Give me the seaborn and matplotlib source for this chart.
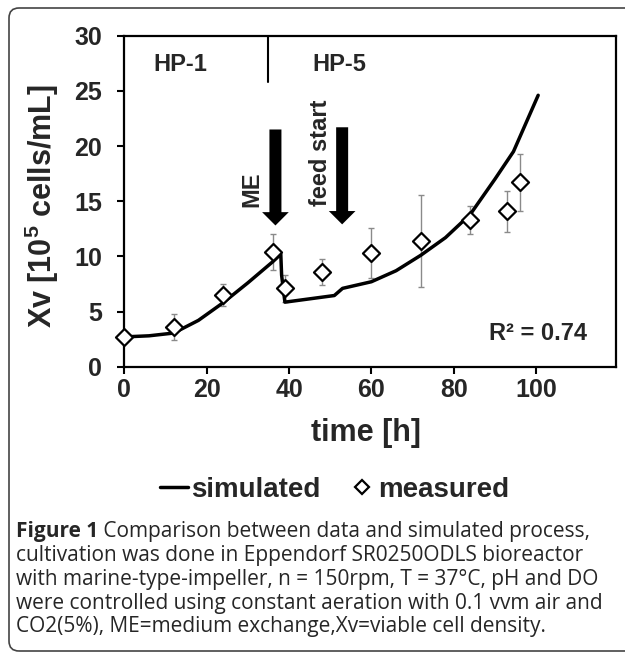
import numpy as np
import pandas as pd
import matplotlib
matplotlib.use('Agg')
import matplotlib.pyplot as plt
import seaborn as sns
from matplotlib.patches import FancyBboxPatch
from matplotlib.lines import Line2D

# simulated viable cell density (line)
sim_time = [0, 6, 12, 18, 24, 30, 36, 38, 38.2, 39, 45, 51, 53, 60, 66, 72, 78, 84, 90, 94.5, 100.5]
sim_xv = [2.7, 2.8, 3.05, 4.2, 5.8, 7.6, 9.5, 10.2, 8.3, 5.85, 6.15, 6.45, 7.1, 7.7, 8.7, 10.1, 11.7, 13.8, 17.0, 19.5, 24.6]

# measured viable cell density (diamonds) with error bars
meas_time = [0, 12, 24, 36, 39, 48, 60, 72, 84, 93, 96]
meas_xv = [2.7, 3.6, 6.5, 10.4, 7.1, 8.6, 10.3, 11.4, 13.3, 14.1, 16.7]
meas_err = [0.0, 1.2, 1.0, 1.65, 1.2, 1.2, 2.3, 4.2, 1.3, 1.85, 2.6]

x_ticks = [0, 20, 40, 60, 80, 100]
y_ticks = [0, 5, 10, 15, 20, 25, 30]

caption_bold = "Figure 1"
caption_lines = [
    " Comparison between data and simulated process,",
    "cultivation was done in Eppendorf SR0250ODLS bioreactor",
    "with marine-type-impeller, n = 150rpm, T = 37\u00b0C, pH and DO",
    "were controlled using constant aeration with 0.1 vvm air and",
    "CO2(5%), ME=medium exchange,Xv=viable cell density.",
]

sns.set_theme(style='white')
plt.rcParams['font.family'] = ['Liberation Sans', 'DejaVu Sans']
plt.rcParams['font.weight'] = 'bold'
plt.rcParams['mathtext.fontset'] = 'custom'
plt.rcParams['mathtext.rm'] = 'Liberation Sans:bold'
plt.rcParams['mathtext.bf'] = 'Liberation Sans:bold'
plt.rcParams['mathtext.default'] = 'bf'

W, H = 625, 653
fig = plt.figure(figsize=(W / 100, H / 100), dpi=100)
left, right, top, bottom = 124.3, 616, 35.7, 366.7
ax = fig.add_axes([left / W, 1 - bottom / H, (right - left) / W, (bottom - top) / H])

sim_df = pd.DataFrame({'time': sim_time, 'xv': sim_xv})
sns.lineplot(data=sim_df, x='time', y='xv', estimator=None, sort=False,
             color='black', lw=2.5, ax=ax, zorder=2)
ax.errorbar(meas_time, meas_xv, yerr=meas_err, fmt='none', ecolor='#8a8a8a',
            elinewidth=1, capsize=2.5, capthick=1, zorder=1)
sns.scatterplot(x=meas_time, y=meas_xv, marker='D', s=75, facecolor='white',
                edgecolor='black', linewidth=1.6, ax=ax, zorder=3, clip_on=False)

ax.set_xlim(0, 119.4)
ax.set_ylim(0, 30)
ax.set_xticks(x_ticks)
ax.set_yticks(y_ticks)
ax.set_xlabel('')
ax.set_ylabel('')
ax.tick_params(axis='both', which='major', labelsize=18, direction='out',
               length=5, width=1.5, color='black', left=True, bottom=True)
ax.tick_params(axis='y', pad=11)
ax.tick_params(axis='x', pad=3)
for sp in ax.spines.values():
    sp.set_color('black')
    sp.set_linewidth(1.6)

# phase annotations
ax.plot([35, 35], [25.8, 30], color='black', lw=1.5)
ax.text(13.5, 27.4, 'HP-1', ha='center', va='center', fontsize=17)
ax.text(52.2, 27.4, 'HP-5', ha='center', va='center', fontsize=17)
ax.text(30.9, 16.1, 'ME', rotation=90, ha='center', va='center', fontsize=17)
ax.text(47.6, 19.4, 'feed start', rotation=90, ha='center', va='center', fontsize=17)
arrow_style = 'simple,head_width=1.6,head_length=0.8,tail_width=0.72'
for x0, y_from, y_to in [(36.7, 21.5, 12.8), (52.9, 21.7, 12.9)]:
    ax.annotate('', xy=(x0, y_to), xytext=(x0, y_from),
                arrowprops=dict(arrowstyle=arrow_style, color='black',
                                shrinkA=0, shrinkB=0, lw=0))
ax.text(100.5, 3.0, 'R\u00b2 = 0.74', ha='center', va='center', fontsize=17)

# axis titles
fig.text(42 / W, 1 - 206 / H, 'Xv [10$^{5}$ cells/mL]', rotation=90,
         ha='center', va='center', fontsize=22)
fig.text(366 / W, 1 - 433 / H, 'time [h]', ha='center', va='center', fontsize=22)

# legend under the plot
handles = [
    Line2D([], [], color='black', lw=2.5),
    Line2D([], [], marker='D', ls='none', markersize=7, markerfacecolor='white',
           markeredgecolor='black', markeredgewidth=1.6),
]
fig.legend(handles, ['simulated', 'measured'], loc='center',
           bbox_to_anchor=(335 / W, 1 - 490 / H), ncol=2, frameon=False,
           fontsize=20, handlelength=1.0, handletextpad=0.1, columnspacing=1.0)

# caption
cap_font = ['Open Sans', 'DejaVu Sans']
cap_size = 15
x0 = 16 / W
t_bold = fig.text(x0, 1 - 532 / H, caption_bold, ha='left', va='center',
                  fontsize=cap_size, fontweight='bold', family=cap_font)
fig.canvas.draw()
bw = t_bold.get_window_extent().width / W
fig.text(x0 + bw, 1 - 532 / H, caption_lines[0], ha='left', va='center',
         fontsize=cap_size, fontweight='normal', family=cap_font)
for i, line in enumerate(caption_lines[1:]):
    fig.text(x0, 1 - (556 + 23.5 * i) / H, line, ha='left', va='center',
             fontsize=cap_size, fontweight='normal', family=cap_font)

# rounded frame around the figure
frame = FancyBboxPatch((9, 2), 700, 643, boxstyle='round,pad=0,rounding_size=10',
                       transform=None, fill=False, ec='#444444', lw=1.2)
fig.add_artist(frame)

fig.savefig('out.png', dpi=100)
